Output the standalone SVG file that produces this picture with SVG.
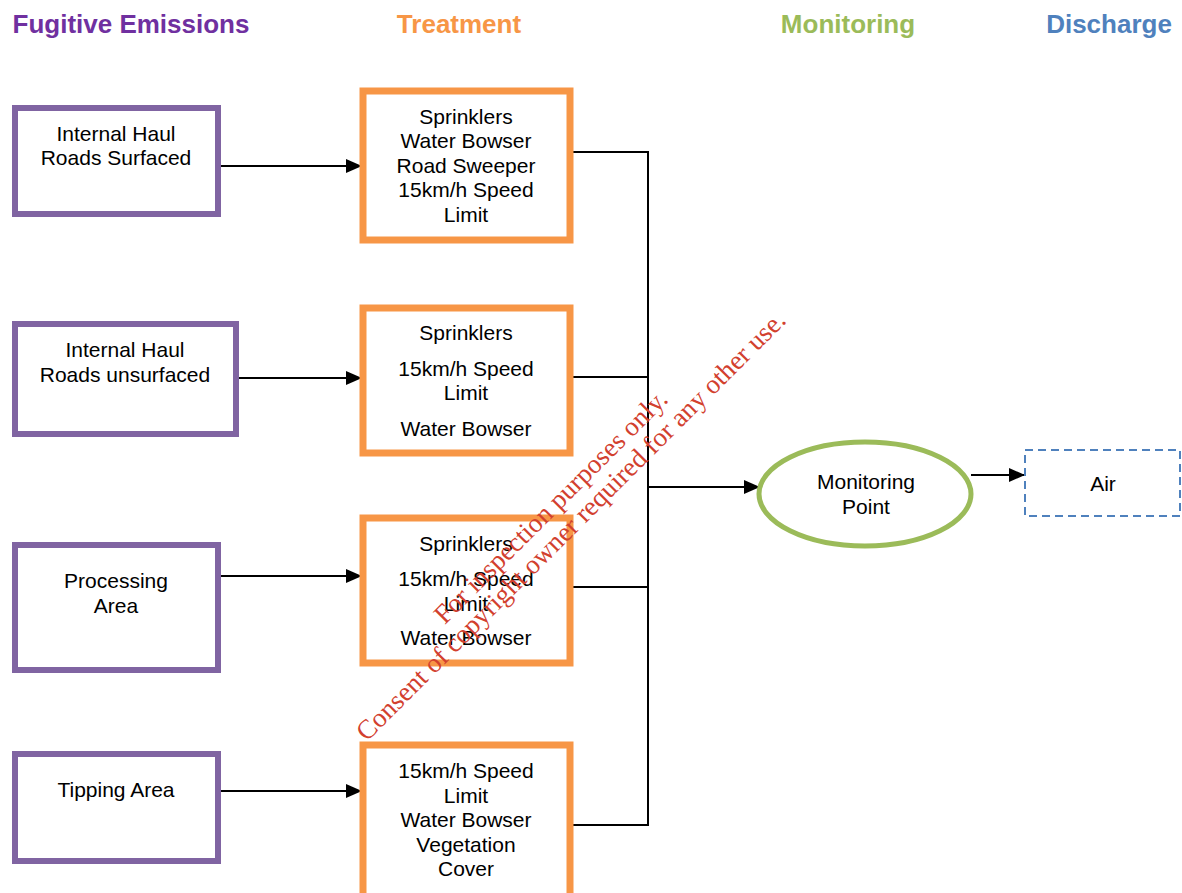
<svg xmlns="http://www.w3.org/2000/svg" width="1182" height="893" viewBox="0 0 1182 893">
<defs>
<style>
.hdr{font-family:"Liberation Sans",Arial,sans-serif;font-size:26px;font-weight:bold;text-anchor:middle}
.t{font-family:"Liberation Sans",Arial,sans-serif;font-size:21px;fill:#000;text-anchor:middle}
.src{fill:#fff;stroke:#8064A2;stroke-width:6}
.trt{fill:#fff;stroke:#F79646;stroke-width:7}
.ln{fill:none;stroke:#000;stroke-width:2}
.wm{font-family:"Liberation Serif","Times New Roman",serif;font-size:27px;fill:#D2402E;text-anchor:middle}
</style>
<marker id="ah" viewBox="0 0 16 14" refX="16" refY="7" markerWidth="16" markerHeight="14" markerUnits="userSpaceOnUse" orient="auto">
<path d="M0,0 L16,7 L0,14 z" fill="#000"/>
</marker>
</defs>
<rect width="1182" height="893" fill="#fff"/>
<g id="headers">
<text class="hdr" x="131" y="33" fill="#7030A0">Fugitive Emissions</text>
<text class="hdr" x="459" y="33" fill="#F79646">Treatment</text>
<text class="hdr" x="848" y="33" fill="#9BBB59">Monitoring</text>
<text class="hdr" x="1109" y="33" fill="#4F81BD">Discharge</text>
</g>
<g id="connectors">
<line class="ln" x1="218" y1="166" x2="362" y2="166" marker-end="url(#ah)"/>
<line class="ln" x1="236" y1="378" x2="362" y2="378" marker-end="url(#ah)"/>
<line class="ln" x1="218" y1="576" x2="362" y2="576" marker-end="url(#ah)"/>
<line class="ln" x1="218" y1="791" x2="362" y2="791" marker-end="url(#ah)"/>
<polyline class="ln" points="570,152 648,152 648,825 570,825"/>
<line class="ln" x1="570" y1="377" x2="648" y2="377"/>
<line class="ln" x1="570" y1="587" x2="648" y2="587"/>
<line class="ln" x1="648" y1="487" x2="760" y2="487" marker-end="url(#ah)"/>
<line class="ln" x1="971" y1="475" x2="1025" y2="475" marker-end="url(#ah)"/>
</g>
<g id="src1"><rect class="src" x="15" y="108" width="203" height="106"/>
<text class="t" x="116" y="141">Internal Haul</text><text class="t" x="116" y="165">Roads Surfaced</text></g>
<g id="src2"><rect class="src" x="15" y="324" width="221" height="110"/>
<text class="t" x="125" y="357">Internal Haul</text><text class="t" x="125" y="382">Roads unsurfaced</text></g>
<g id="src3"><rect class="src" x="15" y="545" width="203" height="125"/>
<text class="t" x="116" y="588">Processing</text><text class="t" x="116" y="613">Area</text></g>
<g id="src4"><rect class="src" x="15" y="754" width="203" height="107"/>
<text class="t" x="116" y="797">Tipping Area</text></g>
<g id="trt1"><rect class="trt" x="363" y="91" width="207" height="149"/>
<text class="t" x="466" y="124">Sprinklers</text><text class="t" x="466" y="148">Water Bowser</text><text class="t" x="466" y="173">Road Sweeper</text><text class="t" x="466" y="197">15km/h Speed</text><text class="t" x="466" y="222">Limit</text></g>
<g id="trt2"><rect class="trt" x="363" y="308" width="207" height="145"/>
<text class="t" x="466" y="340">Sprinklers</text><text class="t" x="466" y="376">15km/h Speed</text><text class="t" x="466" y="400">Limit</text><text class="t" x="466" y="436">Water Bowser</text></g>
<g id="trt3"><rect class="trt" x="363" y="518" width="207" height="145"/>
<text class="t" x="466" y="551">Sprinklers</text><text class="t" x="466" y="586">15km/h Speed</text><text class="t" x="466" y="611">Limit</text><text class="t" x="466" y="645">Water Bowser</text></g>
<g id="trt4"><rect class="trt" x="363" y="745" width="207" height="152"/>
<text class="t" x="466" y="778">15km/h Speed</text><text class="t" x="466" y="803">Limit</text><text class="t" x="466" y="827">Water Bowser</text><text class="t" x="466" y="852">Vegetation</text><text class="t" x="466" y="876">Cover</text></g>
<g id="monitor"><ellipse cx="865" cy="494" rx="106" ry="52" fill="#fff" stroke="#9BBB59" stroke-width="5"/>
<text class="t" x="866" y="489">Monitoring</text><text class="t" x="866" y="514">Point</text></g>
<g id="air"><rect x="1025" y="450" width="155" height="66" fill="#fff" stroke="#4F81BD" stroke-width="2" stroke-dasharray="8,5"/>
<text class="t" x="1103" y="491">Air</text></g>
<g id="watermark">
<text class="wm" transform="translate(557,513) rotate(-45)">For inspection purposes only.</text>
<text class="wm" transform="translate(577,532) rotate(-45)">Consent of copyright owner required for any other use.</text>
</g>
</svg>
